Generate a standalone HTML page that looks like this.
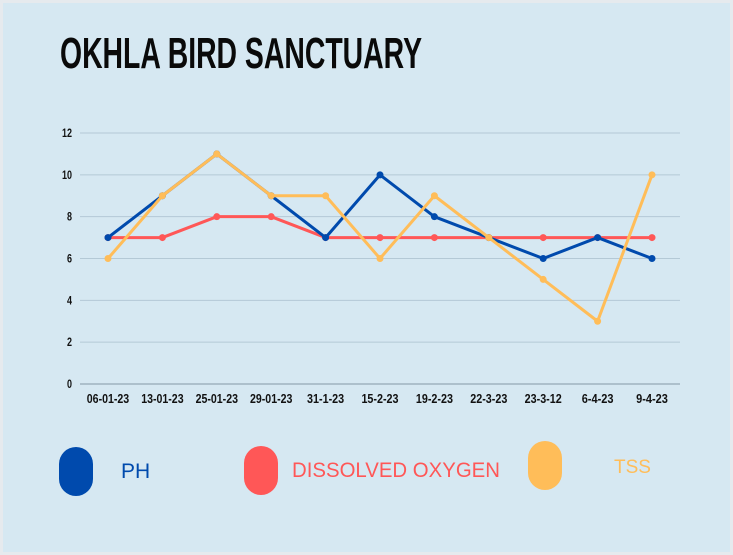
<!DOCTYPE html>
<html><head><meta charset="utf-8"><style>
html,body{margin:0;padding:0;background:#e6eaee;}
svg{display:block;font-family:"Liberation Sans",sans-serif;}
</style></head><body>
<svg id="chart" width="733" height="555" viewBox="0 0 733 555">
<rect x="3" y="3" width="727" height="549" fill="#d6e8f2"/>
<text x="60" y="68" font-size="44" font-weight="bold" fill="#0a0a0a" textLength="362" lengthAdjust="spacingAndGlyphs">OKHLA BIRD SANCTUARY</text>
<g id="grid"></g><g id="xlabels"></g><g id="series"></g>
<g>
<rect x="59" y="447" width="34" height="49" rx="17" fill="#004aad"/>
<text x="121" y="478" font-size="21" fill="#004aad">PH</text>
<rect x="244" y="446" width="34" height="49" rx="17" fill="#ff5757"/>
<text x="292" y="477" font-size="21" fill="#ff5757" textLength="208" lengthAdjust="spacingAndGlyphs">DISSOLVED OXYGEN</text>
<rect x="528" y="441" width="34" height="49" rx="17" fill="#ffbd59"/>
<text x="614" y="473" font-size="19" fill="#ffbd59">TSS</text>
</g>
</svg>
<script>
const categories=["06-01-23","13-01-23","25-01-23","29-01-23","31-1-23","15-2-23","19-2-23","22-3-23","23-3-12","6-4-23","9-4-23"];
const phValues=[7,9,11,9,7,10,8,7,6,7,6];
const doValues=[7,7,8,8,7,7,7,7,7,7,7];
const tssValues=[6,9,11,9,9,6,9,7,5,3,10];
const yTicks=[0,2,4,6,8,10,12];
const NS="http://www.w3.org/2000/svg";
const x=i=>108+i*(652-108)/(categories.length-1);
const y=v=>384-v*(384-133)/12;
function mk(t,a,p){const e=document.createElementNS(NS,t);for(const k in a)e.setAttribute(k,a[k]);p.appendChild(e);return e;}
const grid=document.getElementById('grid');
yTicks.forEach(v=>{
  const l=mk('line',{x1:80,x2:680,y1:y(v),y2:y(v),stroke:v===0?'#9fb2bf':'#b4c9d6','stroke-width':v===0?1.5:1},grid);
  
  
  const t=mk('text',{x:72,y:y(v)+4,'font-size':12,'font-weight':'bold','text-anchor':'end',fill:'#111',textLength:String(v).length*5,lengthAdjust:'spacingAndGlyphs'},grid);
  t.textContent=v;
  
  
});
const xl=document.getElementById('xlabels');
categories.forEach((c,i)=>{
  const t=mk('text',{x:x(i),y:403,'font-size':12.5,'font-weight':'bold','text-anchor':'middle',fill:'#111',textLength:c.length*5.3,lengthAdjust:'spacingAndGlyphs'},xl);
  t.textContent=c;
  
  
});
const sg=document.getElementById('series');
[[doValues,'#ff5757','do'],[phValues,'#004aad','ph'],[tssValues,'#ffbd59','tss']].forEach(([vals,col,nm])=>{
  const p=mk('polyline',{points:vals.map((v,i)=>x(i)+','+y(v)).join(' '),fill:'none',stroke:col,'stroke-width':3,'stroke-linejoin':'round'},sg);
  
  
  vals.forEach((v,i)=>{
    const c=mk('circle',{cx:x(i),cy:y(v),r:3.5,fill:col},sg);
    
    
  });
});
</script>
</body></html>
